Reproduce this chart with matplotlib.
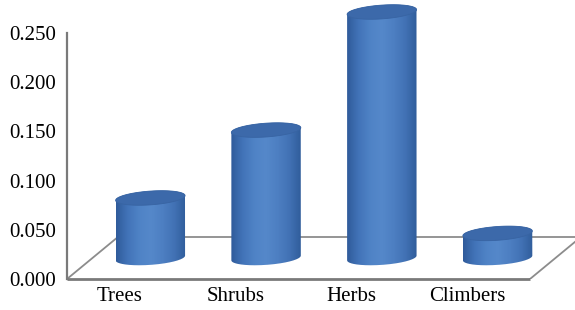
import numpy as np
import matplotlib
matplotlib.use("Agg")
import matplotlib.pyplot as plt
from matplotlib.path import Path
from matplotlib.patches import PathPatch, Polygon
from matplotlib.colors import LinearSegmentedColormap

categories = ["Trees", "Shrubs", "Herbs", "Climbers"]
values = [0.061, 0.130, 0.250, 0.025]
yticks = [0.0, 0.05, 0.10, 0.15, 0.20, 0.25]

plt.rcParams['font.family'] = ['Liberation Serif', 'DejaVu Serif']

fig = plt.figure(figsize=(5.75, 3.10), dpi=100)
# axes spans from the floor line (px 279) to the top of the figure
ax = fig.add_axes([67/575, 31/310, 508/575, 279/310])
ytop = 0.25 * 279 / 246

n = len(categories)
depth_dx = 0.44        # floor depth offset, category units
depth_dy = 0.0427      # floor depth offset, value units
xmax = n - 0.5 + 45/115.75

# floor
floor_col = "#8c8c8c"
ax.plot([-0.5, n - 0.5], [0, 0], color="#7a7a7a", lw=2.0, solid_capstyle="butt", zorder=2, clip_on=False)
ax.plot([-0.5 + depth_dx, n - 0.5 + depth_dx], [depth_dy, depth_dy], color=floor_col, lw=1.3, zorder=1)
ax.plot([-0.5, -0.5 + depth_dx], [0, depth_dy], color=floor_col, lw=1.3, zorder=1)
ax.plot([n - 0.5, n - 0.5 + depth_dx], [0, depth_dy], color=floor_col, lw=1.3, zorder=1)

cmap = LinearSegmentedColormap.from_list(
    "cyl", ["#2f5b9a", "#4273b8", "#4f83c6", "#5588ca", "#4d7fc2", "#4272b5", "#305d9b"])

a = 0.30      # half width in category units
b = 0.0070    # ellipse half height in value units
k = 0.008     # perspective skew
t = np.linspace(0, 2*np.pi, 200)

for i, v in enumerate(values):
    cx = i + depth_dx/2
    base = depth_dy/2
    top = base + v
    tb = np.linspace(np.pi, 2*np.pi, 100)
    bx = cx + a*np.cos(tb)
    by = base + b*np.sin(tb) + k*(bx - cx)
    tt = np.linspace(0, np.pi, 100)
    txx = cx + a*np.cos(tt)
    tyy = top + b*np.sin(tt) + k*(txx - cx)
    verts = np.vstack([np.column_stack([bx, by]), np.column_stack([txx, tyy])])
    verts = np.vstack([verts, verts[:1]])
    patch = PathPatch(Path(verts), facecolor="none", edgecolor="none")
    ax.add_patch(patch)
    grad = np.linspace(0, 1, 256).reshape(1, -1)
    im = ax.imshow(grad, cmap=cmap, aspect="auto",
                   extent=[cx - a, cx + a, base - 2*b, top + 2*b],
                   zorder=3, interpolation="bilinear")
    im.set_clip_path(patch)
    ex = cx + a*np.cos(t)
    ey = top + b*np.sin(t) + k*(ex - cx)
    ax.add_patch(Polygon(np.column_stack([ex, ey]), closed=True, facecolor="#3c69aa",
                         edgecolor="#3864a3", lw=0.6, zorder=4))

ax.set_xlim(-0.5, xmax)
ax.set_ylim(0, ytop)

for s in ["top", "right", "bottom"]:
    ax.spines[s].set_visible(False)
ax.spines["left"].set_color("#7a7a7a")
ax.spines["left"].set_linewidth(1.6)
ax.spines["left"].set_bounds(0, 0.25)

ax.set_yticks(yticks)
ax.set_yticklabels([f"{y:.3f}" for y in yticks], fontsize=15)
ax.tick_params(axis="y", length=0, pad=8)
ax.set_xticks([i - 0.045 for i in range(n)])
ax.set_xticklabels(categories, fontsize=15)
ax.tick_params(axis="x", length=0, pad=6)

fig.savefig("out.png", dpi=100)
